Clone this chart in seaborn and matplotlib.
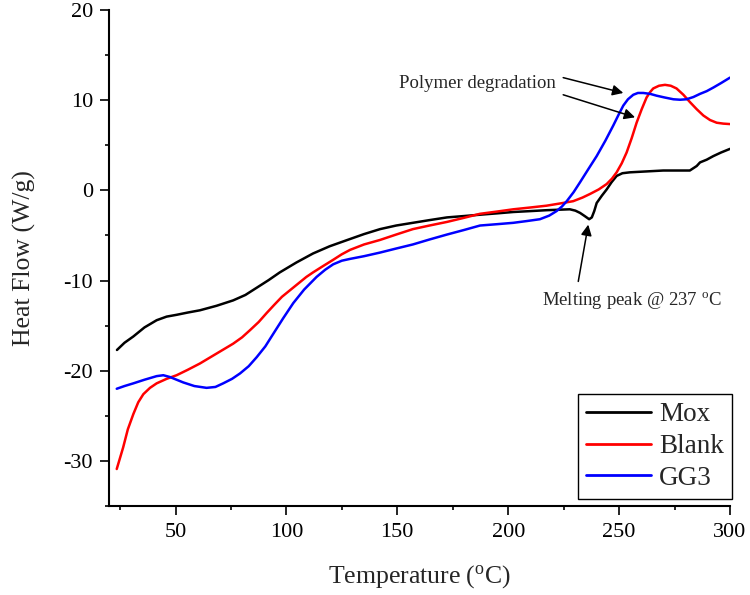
import matplotlib
matplotlib.use("Agg")
import matplotlib.pyplot as plt
import seaborn as sns
import pandas as pd
from matplotlib.ticker import MultipleLocator

# ---- data ----
mox_x = [23.6, 27.0, 31.0, 36.0, 41.5, 46.0, 50.5, 55.5, 61.0, 68.5, 76.0, 81.5, 86.6,
         92.0, 97.0, 104.5, 112.0, 119.5, 127.5, 135.0, 142.2, 149.5, 157.0, 164.5,
         172.4, 180.0, 187.3, 195.0, 202.3, 210.0, 217.3, 222.5, 227.8, 230.3, 232.4,
         234.5, 236.5, 237.7, 238.8, 239.9, 242.2, 244.4, 246.6, 248.9, 251.5, 254.9,
         262.4, 269.9, 277.4, 281.9, 285.0, 286.5, 289.5, 292.5, 296.0, 300.0]
mox_y = [-17.7, -16.9, -16.2, -15.2, -14.4, -14.0, -13.8, -13.55, -13.3, -12.8, -12.2, -11.6, -10.8,
         -9.95, -9.1, -8.0, -7.0, -6.2, -5.5, -4.85, -4.3, -3.9, -3.6, -3.3,
         -3.0, -2.85, -2.7, -2.55, -2.4, -2.3, -2.2, -2.15, -2.1, -2.25, -2.5,
         -2.85, -3.2, -3.0, -2.3, -1.4, -0.6, 0.1, 0.9, 1.6, 1.9, 2.0,
         2.1, 2.2, 2.2, 2.2, 2.7, 3.1, 3.4, 3.8, 4.2, 4.6]

blank_x = [23.5, 26.4, 28.5, 31.0, 33.2, 35.5, 38.5, 41.5, 46.0, 50.5, 55.5, 61.0, 68.5,
           76.0, 80.0, 83.6, 87.5, 91.1, 94.5, 98.0, 102.0, 106.0, 109.0, 112.0, 116.5,
           121.1, 124.9, 128.7, 135.0, 142.2, 149.5, 157.0, 164.5, 172.4, 180.0, 187.3,
           195.0, 202.3, 210.0, 217.3, 223.5, 229.3, 233.5, 236.9, 240.8, 244.4, 246.8,
           248.9, 251.2, 253.4, 255.7, 257.9, 260.2, 262.4, 264.0, 265.4, 268.0, 270.7,
           273.3, 275.9, 279.0, 281.9, 285.0, 288.0, 291.0, 294.0, 297.0, 300.0]
blank_y = [-30.9, -28.5, -26.5, -24.8, -23.5, -22.6, -21.9, -21.4, -20.9, -20.5, -19.9, -19.2, -18.1,
           -17.0, -16.3, -15.5, -14.6, -13.6, -12.7, -11.8, -11.0, -10.2, -9.6, -9.1, -8.4,
           -7.7, -7.1, -6.6, -6.0, -5.5, -4.9, -4.3, -3.9, -3.5, -3.05, -2.6,
           -2.35, -2.1, -1.9, -1.7, -1.45, -1.2, -0.8, -0.4, 0.1, 0.7, 1.3,
           2.0, 3.0, 4.2, 5.8, 7.5, 9.0, 10.3, 10.9, 11.3, 11.6, 11.7,
           11.6, 11.3, 10.6, 9.8, 9.0, 8.3, 7.8, 7.5, 7.4, 7.35]

gg3_x = [23.5, 27.0, 31.0, 36.0, 41.5, 44.5, 47.5, 50.5, 53.5, 58.5, 64.0, 68.0, 71.5,
         75.5, 79.1, 83.0, 86.6, 90.5, 94.1, 98.5, 103.1, 108.0, 113.6, 117.5, 121.1,
         125.0, 128.7, 135.0, 142.2, 149.5, 157.0, 164.5, 172.4, 180.0, 187.3, 195.0,
         202.3, 208.5, 214.3, 218.5, 221.8, 224.2, 226.4, 229.5, 232.4, 236.0, 239.9,
         243.8, 247.4, 249.8, 251.9, 254.0, 256.4, 258.5, 260.9, 264.0, 266.9, 270.5,
         274.5, 277.5, 280.4, 283.5, 286.5, 289.5, 292.5, 296.0, 300.0]
gg3_y = [-22.0, -21.7, -21.4, -21.0, -20.6, -20.5, -20.7, -21.0, -21.3, -21.7, -21.9, -21.8, -21.4,
         -20.9, -20.3, -19.5, -18.5, -17.3, -15.9, -14.2, -12.5, -11.0, -9.6, -8.8, -8.2,
         -7.8, -7.6, -7.3, -6.9, -6.45, -6.0, -5.45, -4.9, -4.4, -3.9, -3.75,
         -3.6, -3.4, -3.2, -2.8, -2.3, -1.8, -1.2, -0.2, 0.9, 2.3, 3.8,
         5.5, 7.2, 8.4, 9.4, 10.1, 10.6, 10.8, 10.8, 10.7, 10.5, 10.3,
         10.1, 10.05, 10.1, 10.35, 10.7, 11.0, 11.4, 11.9, 12.5]

series_names = ["Mox", "Blank", "GG3"]
series_colors = ["#000000", "#ff0000", "#0000ff"]

x_ticks = [50, 100, 150, 200, 250, 300]
y_ticks = [-30, -20, -10, 0, 10, 20]

# ---- styling ----
sns.set_theme(style="ticks")
plt.rcParams["font.family"] = ["Liberation Serif", "DejaVu Serif"]
plt.rcParams["mathtext.fontset"] = "stix"
plt.rcParams["axes.unicode_minus"] = False

fig = plt.figure(figsize=(7.5, 5.95), dpi=100)
ax = fig.add_axes([0.1453, 0.1496, 0.828, 0.8336])

data = {
    "Mox": (mox_x, mox_y),
    "Blank": (blank_x, blank_y),
    "GG3": (gg3_x, gg3_y),
}
for name, color in zip(series_names, series_colors):
    xs, ys = data[name]
    df = pd.DataFrame({"T": xs, "HF": ys})
    sns.lineplot(data=df, x="T", y="HF", ax=ax, color=color, lw=1.8,
                 label=name, estimator=None, sort=False)

ax.set_xlim(20, 300)
ax.set_ylim(-35, 20)
ax.set_xticks(x_ticks)
ax.set_yticks(y_ticks)
ax.xaxis.set_minor_locator(MultipleLocator(25))
ax.yaxis.set_minor_locator(MultipleLocator(5))
ax.tick_params(which="major", direction="out", length=6.5, width=1.2,
               labelsize=16, colors="black")
ax.tick_params(which="minor", direction="out", length=3, width=1.2, colors="black")
ax.tick_params(axis="x", which="major", pad=6)
ax.tick_params(axis="y", which="major", pad=5)

for s in ["top", "right"]:
    ax.spines[s].set_visible(False)
for s in ["left", "bottom"]:
    ax.spines[s].set_linewidth(1.5)
    ax.spines[s].set_color("black")

ax.set_xlabel(r"Temperature ($\mathregular{^{o}}$C)", fontsize=18.5, labelpad=15)
ax.set_ylabel("Heat Flow (W/g)", fontsize=18.5, labelpad=20)

# annotations
ax.text(221.5, 11.9, "Polymer degradation", fontsize=13.5, ha="right", va="center")
arrow_kw = dict(arrowstyle="-|>", color="black", lw=1.1, mutation_scale=16,
                shrinkA=0, shrinkB=0)
ax.annotate("", xy=(251.9, 10.8), xytext=(224.8, 12.5), arrowprops=arrow_kw)
ax.annotate("", xy=(257.2, 8.1), xytext=(224.8, 10.6), arrowprops=arrow_kw)
ax.annotate("", xy=(236.1, -3.8), xytext=(231.6, -10.1), arrowprops=arrow_kw)
ax.text(255.8, -12.2, r"Melting peak @ 237 $\mathregular{^{o}}$C", fontsize=13.5,
        ha="center", va="center")

leg = ax.legend(loc="lower right", bbox_to_anchor=(1.003, 0.014), fontsize=19.5,
                frameon=True, fancybox=False, edgecolor="black", framealpha=1,
                handlelength=2.4, handletextpad=0.3, labelspacing=0.25,
                borderpad=0.3, borderaxespad=0)
leg.get_frame().set_linewidth(1.0)
for line in leg.get_lines():
    line.set_linewidth(2.0)

fig.savefig("out.png", dpi=100)
